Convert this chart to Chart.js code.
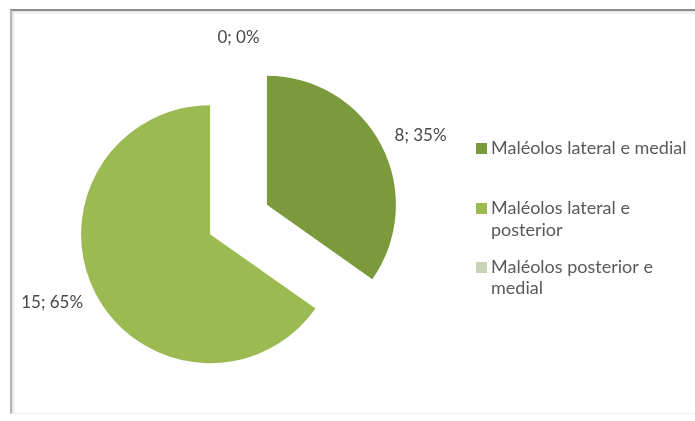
<!doctype html>
<html>
<head>
<meta charset="UTF-8">
<title>Maléolos</title>
<style>
body { margin:0; background:#fff; }
#wrap { position:relative; width:695px; height:421px; overflow:hidden; }
#frame { position:absolute; left:10px; top:9px; width:700px; height:402px;
  border-top:2px solid #8e8e8e; border-left:2px solid #b4b4b4; border-bottom:1px solid #f2f2f2;
  box-shadow: inset 2px 2px 2px #e6e6e6; }
#myPie { position:absolute; left:0; top:0; }
</style>
</head>
<body>
<div id="wrap">
	<div id="frame"></div>
	<canvas id="myPie" width="695" height="421"></canvas>
</div>
<script src="https://cdn.jsdelivr.net/npm/chart.js@4/dist/chart.umd.min.js"></script>
<script>
// dados
var categorias = [
	["Maléolos lateral e medial"],
	["Maléolos lateral e", "posterior"],
	["Maléolos posterior e", "medial"]
];
var valores = [8, 15, 0];
var cores = ["#7a9a3c", "#9bbb52", "#c9d3b6"];

var fonte = "Lato, 'Open Sans', sans-serif";

// fatias afastadas do centro (pizza explodida)
var explodir = {
	id: 'explodir',
	beforeDatasetsDraw: function(chart){
		var a = chart.chartArea;
		var cx = (a.left + a.right) / 2, cy = (a.top + a.bottom) / 2;
		chart.getDatasetMeta(0).data.forEach(function(arc){
			var mid = (arc.startAngle + arc.endAngle) / 2;
			arc.x = cx + Math.cos(mid) * 32;
			arc.y = cy + Math.sin(mid) * 32;
		});
	}
};

// rótulos "valor; %"
var rotulos = {
	id: 'rotulos',
	afterDatasetsDraw: function(chart){
		var ctx = chart.ctx;
		var total = valores.reduce(function(s, v){ return s + v; }, 0);
		ctx.save();
		ctx.font = "17px " + fonte;
		ctx.fillStyle = "#484848";
		ctx.textAlign = "center";
		ctx.textBaseline = "middle";
		chart.getDatasetMeta(0).data.forEach(function(arc, i){
			var mid = (arc.startAngle + arc.endAngle) / 2;
			var dx = Math.cos(mid), dy = Math.sin(mid);
			var txt = valores[i] + "; " + Math.round(valores[i] / total * 100) + "%";
			var w = ctx.measureText(txt).width, h = 17;
			var x = arc.x + dx * (arc.outerRadius + 18) + dx * w / 2;
			var y = arc.y + dy * (arc.outerRadius + 12) + dy * h / 2;
			ctx.fillText(txt, x, y);
		});
		ctx.restore();
	}
};

// legenda à direita
var legenda = {
	id: 'legenda',
	afterDraw: function(chart){
		var ctx = chart.ctx;
		var linhas = [[148], [208, 230], [267, 288]];
		ctx.save();
		ctx.font = "18px " + fonte;
		ctx.textBaseline = "middle";
		ctx.textAlign = "left";
		categorias.forEach(function(cat, i){
			ctx.fillStyle = cores[i];
			ctx.fillRect(476, linhas[i][0] - 5, 11, 11);
			ctx.fillStyle = "#595959";
			cat.forEach(function(t, j){
				ctx.fillText(t, 491, linhas[i][j]);
			});
		});
		ctx.restore();
	}
};

var ctx = document.getElementById("myPie");
var myPie = new Chart(ctx, {
	type: 'pie',
	data: {
		labels: categorias.map(function(c){ return c.join(" "); }),
		datasets: [{
			data: valores,
			backgroundColor: cores,
			borderWidth: 0,
			hoverOffset: 0,
			offset: 0
		}]
	},
	options: {
		responsive: false,
		animation: false,
		events: [],
		layout: { padding: { left: 109.5, top: 90.5, right: 327.5, bottom: 72.5 } },
		plugins: {
			legend: { display: false },
			tooltip: { enabled: false }
		}
	},
	plugins: [explodir, rotulos, legenda]
});
</script>
</body>
</html>
